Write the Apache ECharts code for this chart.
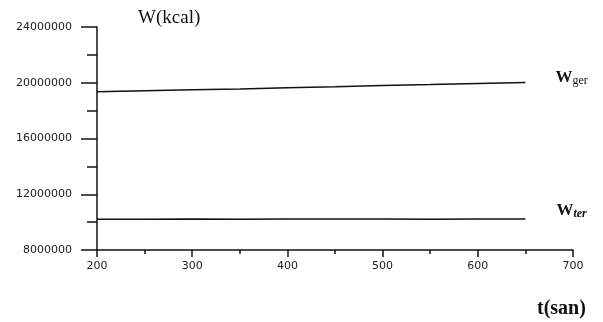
<!DOCTYPE html>
<html>
<head>
<meta charset="utf-8">
<script src="https://cdn.jsdelivr.net/npm/echarts@6/dist/echarts.min.js"></script>
<style>
html,body{margin:0;padding:0;background:#fff;}
#main{width:603px;height:322px;}
</style>
</head>
<body>
<div id="main"></div>
<script>
// 数据
var tValues = [200, 250, 300, 350, 400, 450, 500, 550, 600, 650];
var wGer = [19350000, 19420000, 19500000, 19560000, 19650000, 19720000, 19800000, 19870000, 19950000, 20020000];
var wTer = [10200000, 10210000, 10220000, 10210000, 10220000, 10230000, 10220000, 10210000, 10220000, 10220000];
var xTicks = [200, 300, 400, 500, 600, 700];
var yTicks = [8000000, 12000000, 16000000, 20000000, 24000000];

var lineColor = '#111';
var fontColor = '#222';

function pairs(xs, ys){
    return xs.map(function(v, i){ return [v, ys[i]]; });
}

var chart = echarts.init(document.getElementById('main'));
var option = {
    animation: false,
    backgroundColor: '#fff',
    grid: {
        left: 97,
        right: 30,
        top: 27,
        bottom: 72
    },
    title: [
        {
            text: 'W(kcal)',
            left: 133,
            top: 4,
            textStyle: {fontFamily: 'Liberation Serif', fontSize: 19, fontWeight: 'normal', color: '#111'}
        },
        {
            text: 't(san)',
            left: 532,
            top: 294,
            textStyle: {fontFamily: 'Liberation Serif', fontSize: 20, fontWeight: 'bold', color: '#111'}
        }
    ],
    xAxis: {
        type: 'value',
        min: xTicks[0],
        max: xTicks[xTicks.length - 1],
        interval: 100,
        axisLine: {show: true, lineStyle: {color: lineColor, width: 1.5}},
        axisTick: {show: true, length: 7, lineStyle: {color: lineColor, width: 1.5}},
        minorTick: {show: true, splitNumber: 2, length: 4, lineStyle: {color: lineColor, width: 1.5}},
        splitLine: {show: false},
        axisLabel: {
            margin: 11,
            color: fontColor,
            fontFamily: 'DejaVu Sans',
            fontSize: 11,
            formatter: function(v){ return String(v); }
        }
    },
    yAxis: {
        type: 'value',
        min: yTicks[0],
        max: yTicks[yTicks.length - 1],
        interval: 4000000,
        axisLine: {show: true, lineStyle: {color: lineColor, width: 1.5}},
        axisTick: {show: true, length: 16, lineStyle: {color: lineColor, width: 1.5}},
        minorTick: {show: true, splitNumber: 2, length: 10, lineStyle: {color: lineColor, width: 1.5}},
        splitLine: {show: false},
        axisLabel: {
            margin: 25,
            color: fontColor,
            fontFamily: 'DejaVu Sans',
            fontSize: 11,
            formatter: function(v){ return String(v); }
        }
    },
    series: [
        {
            name: 'Wger',
            type: 'line',
            data: pairs(tValues, wGer),
            showSymbol: false,
            lineStyle: {color: lineColor, width: 1.5},
            endLabel: {
                show: true,
                distance: 30,
                offset: [0, -5],
                formatter: '{w|W}{s|ger}',
                rich: {
                    w: {fontFamily: 'Liberation Serif', fontSize: 17, fontWeight: 'bold', color: '#111'},
                    s: {fontFamily: 'Liberation Serif', fontSize: 12, color: '#111', verticalAlign: 'bottom', padding: [6, 0, 0, 0]}
                }
            }
        },
        {
            name: 'Wter',
            type: 'line',
            data: pairs(tValues, wTer),
            showSymbol: false,
            lineStyle: {color: lineColor, width: 1.5},
            endLabel: {
                show: true,
                distance: 31,
                offset: [0, -8],
                formatter: '{w|W}{s|ter}',
                rich: {
                    w: {fontFamily: 'Liberation Serif', fontSize: 17, fontWeight: 'bold', color: '#111'},
                    s: {fontFamily: 'Liberation Serif', fontSize: 12, fontWeight: 'bold', fontStyle: 'italic', color: '#111', verticalAlign: 'bottom', padding: [6, 0, 0, 0]}
                }
            }
        }
    ]
};
chart.setOption(option);
</script>
</body>
</html>
